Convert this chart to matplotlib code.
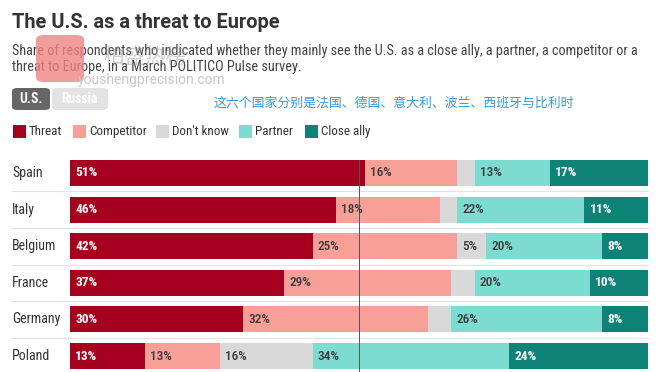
import matplotlib
matplotlib.use("Agg")
import matplotlib.pyplot as plt
import matplotlib.font_manager as fm
from matplotlib.patches import FancyBboxPatch, Rectangle
from matplotlib.transforms import blended_transform_factory
import numpy as np

countries = ["Spain", "Italy", "Belgium", "France", "Germany", "Poland"]
categories = ["Threat", "Competitor", "Don't know", "Partner", "Close ally"]
threat = [51, 46, 42, 37, 30, 13]
competitor = [16, 18, 25, 29, 32, 13]
dont_know = [3, 3, 5, 4, 4, 16]
partner = [13, 22, 20, 20, 26, 34]
close_ally = [17, 11, 8, 10, 8, 24]
series = [threat, competitor, dont_know, partner, close_ally]
colors = ["#a6001f", "#f8a097", "#d9d9d9", "#7cdcd1", "#0d8276"]
label_colors = ["white", "#3a3a3a", "#3a3a3a", "#3a3a3a", "white"]
label_weights = ["bold", "medium", "medium", "medium", "bold"]
show_label = [[True] * 6, [True] * 6, [False, False, True, False, False, True], [True] * 6, [True] * 6]

title = "The U.S. as a threat to Europe"
subtitle = ("Share of respondents who indicated whether they mainly see the U.S. as a close ally, a partner, a competitor or a\n"
            "threat to Europe, in a March POLITICO Pulse survey.")
note_cn = "这六个国家分别是法国、德国、意大利、波兰、西班牙与比利时"

# pick a condensed face if one is installed
cond = {}
for f in fm.fontManager.ttflist:
    st = str(f.stretch).lower()
    if "condensed" in st or "narrow" in f.name.lower() or "condensed" in f.name.lower():
        cond.setdefault(f.name, []).append(f)
pref = ["Roboto Condensed", "Noto Sans", "DejaVu Sans", "Open Sans", "Liberation Sans Narrow", "Roboto"]
NARROW_FAM, NARROW_STRETCH = ["Roboto"], "normal"
for p in pref:
    if p in cond:
        NARROW_FAM = [p]
        NARROW_STRETCH = str(cond[p][0].stretch) if p not in ("Roboto Condensed", "Liberation Sans Narrow") else "normal"
        break
NKW = dict(family=NARROW_FAM + ["DejaVu Sans"], fontstretch=NARROW_STRETCH)

W, H = 660, 372
fig = plt.figure(figsize=(W / 100, H / 100), dpi=100)
fig.patch.set_facecolor("white")
CJK = ["Noto Sans CJK SC", "DejaVu Sans"]


def fx(x):
    return x / W


def fy(y):
    return 1 - y / H


# watermark
fig.patches.append(FancyBboxPatch((fx(36), fy(82)), fx(48), 47 / H, boxstyle="round,pad=0,rounding_size=0.012",
                                  transform=fig.transFigure, facecolor="#f08383", edgecolor="none", alpha=0.8, zorder=5))
fig.text(fx(145), fy(57), "柏盛热榜", family=CJK, fontsize=15, color="#9a9a9a", alpha=0.5,
         ha="center", va="center", zorder=6)
fig.text(fx(78), fy(80), "youshengprecision.com", family=["Roboto", "DejaVu Sans"], fontsize=10, color="#c8c8c8",
         ha="left", va="center", zorder=6)

# title & subtitle
fig.text(fx(12), fy(22), title, family=["Roboto", "DejaVu Sans"], fontsize=14.4, fontweight="bold",
         color="#333333", ha="left", va="center")
fig.text(fx(12), fy(59), subtitle, fontsize=10.3, color="#444444", ha="left", va="center",
         linespacing=1.2, **NKW)

# toggle buttons
fig.patches.append(FancyBboxPatch((fx(12), fy(110)), fx(38), 22 / H, boxstyle="round,pad=0,rounding_size=0.008",
                                  transform=fig.transFigure, facecolor="#666666", edgecolor="none"))
fig.text(fx(31), fy(99), "U.S.", fontsize=9.8, fontweight="bold", color="white",
         ha="center", va="center", **NKW)
fig.patches.append(FancyBboxPatch((fx(52), fy(110)), fx(56), 22 / H, boxstyle="round,pad=0,rounding_size=0.008",
                                  transform=fig.transFigure, facecolor="#e3e3e3", edgecolor="none"))
fig.text(fx(80), fy(99), "Russia", fontsize=9.8, fontweight="bold", color="white",
         ha="center", va="center", **NKW)

fig.text(fx(214), fy(103), note_cn, family=CJK, fontsize=9.3, color="#3a9ad6", ha="left", va="center")

# legend
leg_x = [13, 73, 156, 239, 305]
for lx, cat, col in zip(leg_x, categories, colors):
    fig.patches.append(Rectangle((fx(lx), fy(138)), fx(13), 13 / H, transform=fig.transFigure,
                                 facecolor=col, edgecolor="none"))
    fig.text(fx(lx + 16), fy(131.5), cat, fontsize=9.4, color="#333333", ha="left", va="center", **NKW)

# bars
row_gap = 36.6
top_center = 173
ax_top = top_center - row_gap / 2
ax_h = row_gap * len(countries)
ax = fig.add_axes([fx(70), fy(ax_top + ax_h), fx(648 - 70), ax_h / H])
ax.set_xlim(0, 100)
ax.set_ylim(len(countries) - 0.5, -0.5)
ax.axis("off")

y = np.arange(len(countries))
left = np.zeros(len(countries))
bh = 26 / row_gap
for i, (vals, col) in enumerate(zip(series, colors)):
    vals = np.array(vals, dtype=float)
    ax.barh(y, vals, left=left, height=bh, color=col, edgecolor="none", zorder=2)
    for j in range(len(countries)):
        if show_label[i][j]:
            ax.text(left[j] + 0.9, y[j], f"{int(vals[j])}%", fontsize=9.6, fontweight=label_weights[i],
                    color=label_colors[i], ha="left", va="center", zorder=4, **NKW)
    left += vals

# separators
tr = blended_transform_factory(fig.transFigure, ax.transData)
for j in range(len(countries) - 1):
    ax.plot([fx(12), fx(648)], [j + 0.5, j + 0.5], transform=tr, color="#e2e2e2", lw=0.8, clip_on=False, zorder=1)

ax.plot([50, 50], [-bh / 2, len(countries) - 0.5], color="#555555", lw=0.7, zorder=3, clip_on=False)

for j, c in enumerate(countries):
    ax.text(fx(12), y[j], c, transform=tr, fontsize=10, color="#333333", ha="left", va="center", **NKW)

fig.savefig("out.png", dpi=100, facecolor="white")
